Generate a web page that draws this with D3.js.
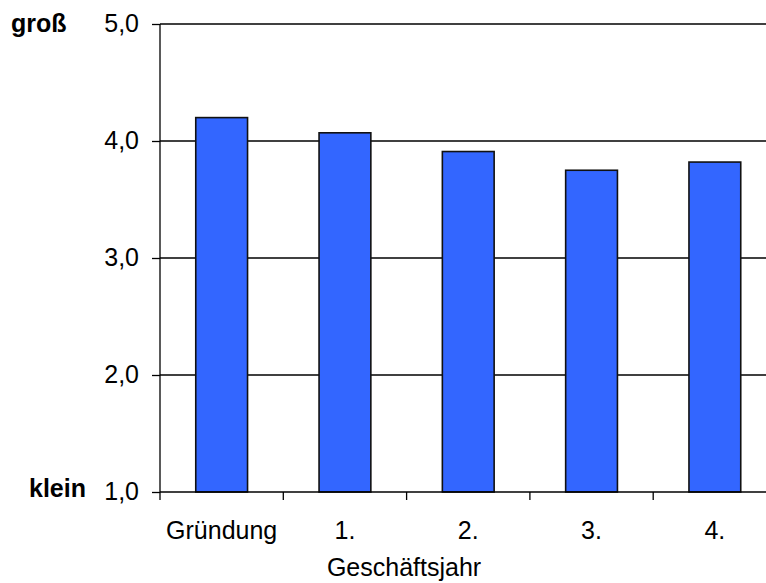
<html>
<head>
<meta charset="utf-8">
<script src="https://d3js.org/d3.v7.min.js"></script>
<style>
  body { margin: 0; background: white; }
  text { font-family: "Liberation Sans", Arial, sans-serif; }
</style>
</head>
<body>
<svg width="766" height="583" id="chart"></svg>
<script>

// values
var categories = ["Gründung", "1.", "2.", "3.", "4."];
var values = [4.20, 4.07, 3.91, 3.75, 3.82];
var yTicks = [1, 2, 3, 4, 5];
var xTitle = "Geschäftsjahr";
var topLabel = "groß";
var bottomLabel = "klein";

var svg = d3.select("#chart");

var plotLeft = 160, plotRight = 776.5, plotTop = 24, plotBottom = 492;

var x = d3.scaleBand()
  .domain(categories)
  .range([plotLeft, plotRight])
  .paddingInner(0.58)
  .paddingOuter(0.29);

var y = d3.scaleLinear()
  .domain([1, 5])
  .range([plotBottom, plotTop]);

// horizontal grid lines (behind bars)
svg.append("g")
  .selectAll("line")
  .data(yTicks.filter(function (d) { return d > 1; }))
  .enter().append("line")
  .attr("x1", plotLeft)
  .attr("x2", plotRight)
  .attr("y1", function (d) { return y(d); })
  .attr("y2", function (d) { return y(d); })
  .style("stroke", "black")
  .style("stroke-width", 1.3);

// bars
svg.append("g")
  .selectAll("rect")
  .data(values)
  .enter().append("rect")
  .attr("x", function (d, i) { return x(categories[i]); })
  .attr("y", function (d) { return y(d); })
  .attr("width", x.bandwidth())
  .attr("height", function (d) { return y(1) - y(d); })
  .attr("fill", "#3366ff")
  .style("stroke", "#111")
  .style("stroke-width", 1.6);

// y axis
var yAxis = d3.axisLeft(y)
  .tickValues(yTicks)
  .tickSize(8)
  .tickPadding(13)
  .tickFormat(function (d) { return d3.format(".1f")(d).replace(".", ","); });

var gy = svg.append("g")
  .attr("transform", "translate(" + plotLeft + ",0)")
  .call(yAxis);
gy.select(".domain").attr("d", "M0," + plotTop + "V" + (plotBottom + 8))
  .style("stroke", "black").style("stroke-width", 1.3);
gy.selectAll(".tick line").style("stroke", "black").style("stroke-width", 1.3);
gy.selectAll("text")
  .attr("dy", "0.3em")
  .style("font-size", "25px")
  .style("fill", "black")
  .style("font-family", "Liberation Sans, Arial, sans-serif");

// x axis, ticks between categories
var gx = svg.append("g")
  .attr("transform", "translate(0," + plotBottom + ")");
gx.append("line")
  .attr("x1", plotLeft).attr("x2", plotRight)
  .style("stroke", "black").style("stroke-width", 1.3);
gx.selectAll(".sep")
  .data(categories.slice(1))
  .enter().append("line")
  .attr("class", "sep")
  .attr("x1", function (d) { return x(d) - x.step() * x.paddingInner() / 2; })
  .attr("x2", function (d) { return x(d) - x.step() * x.paddingInner() / 2; })
  .attr("y1", 0).attr("y2", 8)
  .style("stroke", "black").style("stroke-width", 1.3);
gx.selectAll(".lab")
  .data(categories)
  .enter().append("text")
  .attr("class", "lab")
  .attr("x", function (d) { return x(d) + x.bandwidth() / 2; })
  .attr("y", 47)
  .attr("text-anchor", "middle")
  .style("font-size", "25px")
  .text(function (d) { return d; });

// axis title
svg.append("text")
  .attr("x", 404)
  .attr("y", 576)
  .attr("text-anchor", "middle")
  .style("font-size", "25px")
  .text(xTitle);

// size labels
svg.append("text")
  .attr("x", 11)
  .attr("y", 32)
  .style("font-size", "25px")
  .style("font-weight", "bold")
  .text(topLabel);

svg.append("text")
  .attr("x", 29)
  .attr("y", 497)
  .style("font-size", "25px")
  .style("font-weight", "bold")
  .text(bottomLabel);

</script>
</body>
</html>
